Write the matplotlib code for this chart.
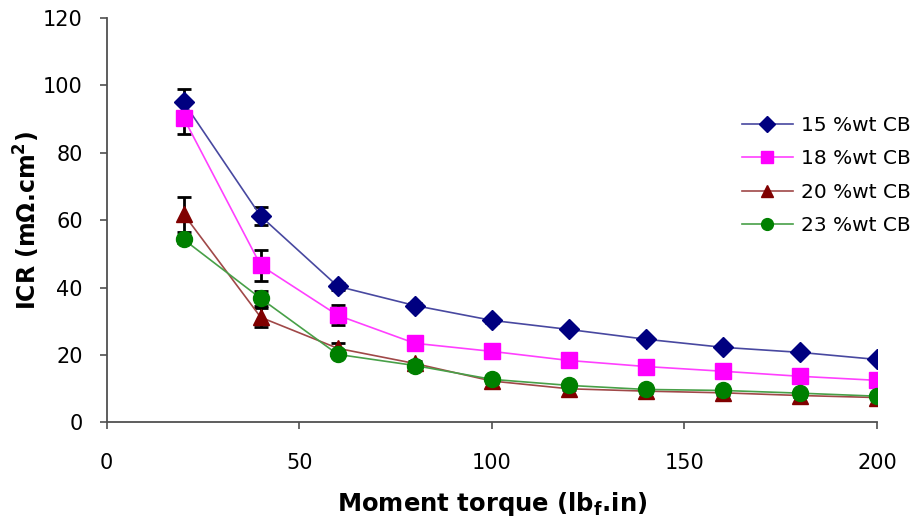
import matplotlib
matplotlib.use("Agg")
import matplotlib.pyplot as plt

plt.rcParams['font.family'] = ['DejaVu Sans']
plt.rcParams['mathtext.fontset'] = 'dejavusans'

torque = [20, 40, 60, 80, 100, 120, 140, 160, 180, 200]
labels = ["15 %wt CB", "18 %wt CB", "20 %wt CB", "23 %wt CB"]
icr_15 = [95.0, 61.2, 40.4, 34.7, 30.3, 27.6, 24.7, 22.3, 20.8, 18.7]
icr_18 = [90.3, 46.6, 31.8, 23.5, 21.1, 18.4, 16.6, 15.2, 13.7, 12.5]
icr_20 = [61.8, 31.2, 22.0, 17.5, 12.3, 10.0, 9.3, 8.8, 8.0, 7.4]
icr_23 = [54.3, 36.8, 20.2, 16.9, 12.8, 11.0, 9.8, 9.5, 8.7, 7.8]
err_15 = [4.0, 2.7, 1.0, 0.8, 0.8, 0.6, 0.6, 0.5, 0.5, 0.5]
err_18 = [4.8, 4.7, 3.0, 0.8, 0.8, 0.6, 0.6, 0.5, 0.5, 0.5]
err_20 = [5.2, 2.8, 1.5, 0.8, 0.6, 0.5, 0.5, 0.5, 0.5, 0.5]
err_23 = [1.0, 2.1, 0.8, 0.6, 0.6, 0.5, 0.5, 0.5, 0.5, 0.5]

series = [
    (icr_15, err_15, 'D', '#000080', '#4848a0', 10),
    (icr_18, err_18, 's', '#ff00ff', '#ff40ff', 11),
    (icr_20, err_20, '^', '#800000', '#a04848', 11.5),
    (icr_23, err_23, 'o', '#008000', '#48a048', 11.5),
]

fig = plt.figure(figsize=(9.22, 5.23), dpi=100)
ax = fig.add_axes([0.1157, 0.1922, 0.8355, 0.7733])

for (vals, errs, mk, mc, lc, ms), lab in zip(series, labels):
    ax.errorbar(torque, vals, yerr=errs, fmt='none', ecolor='black',
                elinewidth=2.0, capsize=4.7, capthick=2.0, zorder=2)
for (vals, errs, mk, mc, lc, ms), lab in zip(series, labels):
    ax.plot(torque, vals, color=lc, linewidth=1.2, marker=mk, markersize=ms,
            markerfacecolor=mc, markeredgecolor=mc, label=lab, zorder=3)

ax.set_xlim(0, 200)
ax.set_ylim(0, 120)
ax.set_xticks([0, 50, 100, 150, 200])
ax.set_yticks([0, 20, 40, 60, 80, 100, 120])
for s in ['top', 'right']:
    ax.spines[s].set_visible(False)
for s in ['left', 'bottom']:
    ax.spines[s].set_color('#505050')
    ax.spines[s].set_linewidth(1.3)
ax.tick_params(direction='out', length=5.2, width=1.2, color='#505050',
               labelsize=15)
ax.tick_params(axis='y', pad=12)
ax.tick_params(axis='x', pad=17)

ax.set_xlabel('Moment torque (lb$_\\mathbf{f}$.in)', fontsize=17.5,
              fontweight='bold', labelpad=12)
ax.set_ylabel('ICR (m\u03a9.cm$^\\mathbf{2}$)', fontsize=17,
              fontweight='bold', labelpad=1)

leg = ax.legend(loc='upper left', bbox_to_anchor=(0.805, 0.778),
                bbox_transform=fig.transFigure, frameon=False,
                fontsize=14.5, handlelength=2.5, labelspacing=0.71,
                handletextpad=0.4, borderaxespad=0, borderpad=0)
for h in leg.legend_handles:
    h.set_markersize(8.5)

fig.savefig('out.png', dpi=100)
